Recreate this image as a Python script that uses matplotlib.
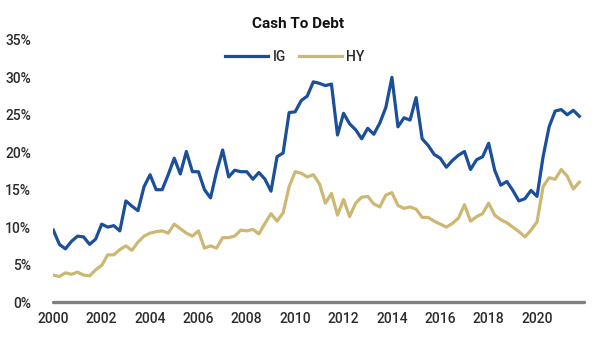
"""Cash to debt ratio for IG and HY issuers, 2000-2021."""

import matplotlib

matplotlib.use("Agg")
import matplotlib.pyplot as plt
import numpy as np
from matplotlib.ticker import FuncFormatter

plt.rcParams["font.family"] = ["Roboto", "DejaVu Sans"]

# quarterly readings, 2000Q1 onwards (percent)
ig = [
    9.6, 7.7, 7.1, 8.1, 8.8, 8.7, 7.7, 8.4, 10.4, 10.0, 10.2, 9.5,
    13.5, 12.8, 12.2, 15.4, 17.0, 15.0, 15.0, 17.0, 19.2, 17.1, 20.1, 17.4,
    17.4, 15.0, 13.9, 17.4, 20.3, 16.7, 17.6, 17.4, 17.4, 16.4, 17.3, 16.4,
    14.8, 19.4, 19.9, 25.3, 25.4, 26.9, 27.5, 29.4, 29.2, 28.9, 29.1, 22.3,
    25.2, 23.8, 23.0, 21.8, 23.2, 22.4, 23.9, 26.0, 30.0, 23.4, 24.6, 24.3,
    27.3, 21.8, 20.9, 19.7, 19.2, 18.0, 18.9, 19.6, 20.1, 17.7, 19.0, 19.4,
    21.2, 17.6, 15.6, 16.1, 14.9, 13.5, 13.8, 14.9, 14.1, 19.4, 23.4, 25.5,
    25.7, 25.0, 25.6, 24.8,
]
hy = [
    3.6, 3.4, 3.9, 3.7, 4.0, 3.6, 3.5, 4.3, 4.9, 6.3, 6.3, 7.0,
    7.5, 6.9, 8.0, 8.8, 9.2, 9.4, 9.5, 9.2, 10.4, 9.8, 9.2, 8.8,
    9.5, 7.2, 7.5, 7.2, 8.6, 8.6, 8.8, 9.6, 9.5, 9.7, 9.1, 10.5,
    11.8, 10.8, 11.9, 15.4, 17.4, 17.2, 16.7, 17.0, 15.8, 13.2, 14.5, 11.6,
    13.7, 11.4, 13.2, 14.0, 14.1, 13.1, 12.7, 14.3, 14.6, 12.9, 12.5, 12.7,
    12.4, 11.3, 11.3, 10.8, 10.4, 10.0, 10.5, 11.2, 13.0, 10.8, 11.4, 11.8,
    13.2, 11.6, 11.0, 10.6, 10.0, 9.4, 8.7, 9.6, 10.7, 15.4, 16.6, 16.4,
    17.7, 16.8, 15.1, 16.0,
]
year_ticks = list(range(2000, 2021, 2))
pct_ticks = list(range(0, 36, 5))

IG_COLOR = "#1b4f9a"
HY_COLOR = "#cdb873"
TEXT_COLOR = "#2b2b2b"

t = 2000 + np.arange(len(ig)) * 0.25

fig = plt.figure(figsize=(6.13, 3.44), dpi=100)
ax = fig.add_axes([0.087, 0.122, 0.866, 0.762])

ax.plot(t, ig, color=IG_COLOR, lw=2.3, label="IG", solid_joinstyle="round")
ax.plot(t, hy, color=HY_COLOR, lw=2.3, label="HY", solid_joinstyle="round")

ax.set_xlim(2000, 2021.95)
ax.set_ylim(0, 35)
ax.set_xticks(year_ticks)
ax.set_yticks(pct_ticks)
ax.yaxis.set_major_formatter(FuncFormatter(lambda v, _: f"{v:.0f}%"))
ax.tick_params(length=0, labelsize=10, colors=TEXT_COLOR)
ax.tick_params(axis="y", pad=16)
ax.tick_params(axis="x", pad=7)
for lbl in ax.get_xticklabels() + ax.get_yticklabels():
    lbl.set_fontweight("medium")

for side in ("left", "right", "top"):
    ax.spines[side].set_visible(False)
ax.spines["bottom"].set_color("#7f7f7f")
ax.spines["bottom"].set_linewidth(2.4)
ax.spines["bottom"].set_capstyle("round")

fig.text(0.486, 0.93, "Cash To Debt", ha="center", va="center",
         fontsize=11, fontweight="bold", color="#111111")

leg = ax.legend(loc="center", bbox_to_anchor=(0.455, 0.935), ncol=2,
                frameon=False, handlelength=3.1, handletextpad=0.35,
                columnspacing=0.9, fontsize=10, labelcolor=TEXT_COLOR)
for txt in leg.get_texts():
    txt.set_fontweight("medium")

fig.savefig("out.png", dpi=100)
